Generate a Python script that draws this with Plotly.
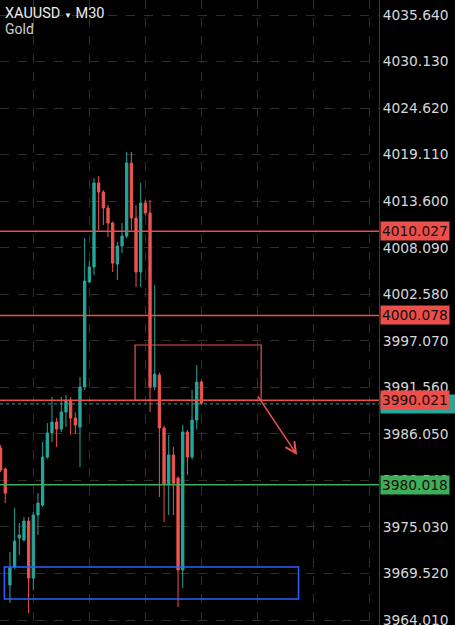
import plotly.graph_objects as go

# M30 bars, oldest -> newest (bar index on x)
BARS = list(range(44))
OPEN = [3984.37, 3981.89, 3968.15, 3970.28, 3973.72, 3973.48, 3975.73, 3968.98, 3976.44, 3977.62,
        3983.31, 3986.15, 3987.45, 3986.62, 3988.64, 3990.06, 3987.93, 3986.86, 3991.60, 4004.03,
        4005.80, 4015.75, 4014.68, 4012.79, 4011.01, 4006.16, 4008.29, 4009.47, 4018.12, 4011.60,
        4005.21, 4013.38, 4012.20, 3991.60, 3993.02, 3986.74, 3980.11, 3983.54, 3980.82, 3969.93,
        3986.27, 3983.31, 3987.69, 3992.19]
HIGH = [3984.73, 3982.05, 3972.06, 3977.27, 3975.49, 3976.20, 3976.20, 3976.80, 3979.04, 3985.08,
        3987.33, 3990.41, 3987.93, 3990.41, 3990.65, 3990.41, 3988.60, 3992.78, 4009.24, 4006.50,
        4016.34, 4016.58, 4014.90, 4013.14, 4011.20, 4008.76, 4011.01, 4019.42, 4019.42, 4013.14,
        4015.75, 4013.74, 4013.74, 4003.67, 3993.30, 3987.00, 3985.91, 3984.49, 3981.00, 3987.10,
        3986.50, 3991.24, 3994.20, 3992.42]
LOW = [3981.53, 3977.86, 3966.02, 3970.05, 3971.70, 3973.30, 3964.84, 3967.56, 3974.07, 3977.39,
       3983.10, 3985.08, 3984.49, 3986.27, 3986.86, 3985.91, 3986.03, 3982.12, 3991.24, 4003.91,
       4004.86, 4010.18, 4010.78, 4009.36, 4005.21, 4004.26, 4007.46, 4009.20, 4010.18, 4003.44,
       4003.44, 4011.90, 3988.64, 3991.24, 3978.57, 3975.61, 3976.44, 3976.44, 3965.55, 3967.80,
       3981.18, 3983.00, 3986.62, 3989.50]
CLOSE = [3981.77, 3979.04, 3970.17, 3973.36, 3974.07, 3975.73, 3968.98, 3976.44, 3977.86, 3983.31,
         3986.15, 3987.45, 3986.62, 3988.64, 3990.06, 3987.93, 3987.10, 3991.60, 4004.15, 4005.80,
         4015.75, 4014.68, 4012.79, 4011.01, 4006.28, 4008.29, 4009.47, 4018.12, 4011.60, 4005.21,
         4013.38, 4012.20, 3991.60, 3993.13, 3986.74, 3980.11, 3983.54, 3980.20, 3969.93, 3986.27,
         3983.31, 3987.69, 3992.19, 3989.70]

PRICE_TICKS = [4035.640, 4030.130, 4024.620, 4019.110, 4013.600, 4008.090, 4002.580,
               3997.070, 3991.560, 3986.050, 3980.540, 3975.030, 3969.520, 3964.010]
TIME_GRID = [7, 19, 31, 43, 55, 67, 79]

RESISTANCE = [4010.027, 4000.078, 3990.021]
SUPPORT = 3980.018
LAST_PRICE = 3989.60
SELL_ZONE = dict(bars=(28.8, 55.8), prices=(3990.021, 3996.57))
BUY_ZONE = dict(bars=(0.8, 63.8), prices=(3966.49, 3970.28))
PROJECTION = dict(bars=(54.9, 63.5), prices=(3990.65, 3983.54))

UP = "#26a69a"
DOWN = "#ef5350"
LEVEL_RED = "#ea4f49"
LEVEL_GREEN = "#3fae5a"
ZONE_BLUE = "#2962ff"
GRID = "#2e2e2e"
TEXT = "#d6d6d6"
FONT = "DejaVu Sans"
FSIZE = 13.8

fig = go.Figure(go.Candlestick(
    x=BARS, open=OPEN, high=HIGH, low=LOW, close=CLOSE,
    increasing=dict(line=dict(color=UP, width=1), fillcolor=UP),
    decreasing=dict(line=dict(color=DOWN, width=1), fillcolor=DOWN),
    whiskerwidth=0,
    showlegend=False,
))

shapes = []
# sell zone & buy zone boxes
shapes.append(dict(type="rect", xref="x", yref="y",
                   x0=SELL_ZONE["bars"][0], x1=SELL_ZONE["bars"][1],
                   y0=SELL_ZONE["prices"][0], y1=SELL_ZONE["prices"][1],
                   line=dict(color=LEVEL_RED, width=1.2), layer="above"))
shapes.append(dict(type="rect", xref="x", yref="y",
                   x0=BUY_ZONE["bars"][0], x1=BUY_ZONE["bars"][1],
                   y0=BUY_ZONE["prices"][0], y1=BUY_ZONE["prices"][1],
                   line=dict(color=ZONE_BLUE, width=1.5), layer="above"))
# last price dashed line
shapes.append(dict(type="line", xref="paper", yref="y", x0=0, x1=1,
                   y0=LAST_PRICE, y1=LAST_PRICE,
                   line=dict(color=UP, width=1, dash="3px,3px"), layer="above"))
for lvl in RESISTANCE:
    shapes.append(dict(type="line", xref="paper", yref="y", x0=0, x1=1, y0=lvl, y1=lvl,
                       line=dict(color=LEVEL_RED, width=1.5), layer="above"))
shapes.append(dict(type="line", xref="paper", yref="y", x0=0, x1=1, y0=SUPPORT, y1=SUPPORT,
                   line=dict(color=LEVEL_GREEN, width=1.5), layer="above"))

annotations = []


def price_tag(value, color, width=66):
    return dict(xref="paper", yref="y", x=1, y=value, xanchor="left", yanchor="middle",
                xshift=1, text=f"{value:.3f}", showarrow=False, bgcolor=color,
                width=width, align="left", borderpad=1,
                font=dict(family=FONT, size=FSIZE, color="#1a0d0d"))


annotations.append(price_tag(LAST_PRICE, UP, width=74))
for lvl in RESISTANCE:
    annotations.append(price_tag(lvl, LEVEL_RED))
annotations.append(price_tag(SUPPORT, LEVEL_GREEN))

# projected move arrow
annotations.append(dict(xref="x", yref="y", axref="x", ayref="y",
                        x=PROJECTION["bars"][1], y=PROJECTION["prices"][1],
                        ax=PROJECTION["bars"][0], ay=PROJECTION["prices"][0],
                        showarrow=True, arrowhead=5, arrowsize=1.4, arrowwidth=1.5,
                        arrowcolor=LEVEL_RED, text=""))

# symbol header
annotations.append(dict(xref="paper", yref="paper", x=0, y=1, xanchor="left", yanchor="top",
                        xshift=3, yshift=-3, showarrow=False, align="left",
                        text="XAUUSD <span style='font-size:8px'>▼</span> M30",
                        font=dict(family="Roboto", size=14.5, color="#ececec")))
annotations.append(dict(xref="paper", yref="paper", x=0, y=1, xanchor="left", yanchor="top",
                        xshift=3, yshift=-19, showarrow=False, align="left",
                        text="Gold", font=dict(family="Roboto", size=14, color="#d0d0d0")))

fig.update_layout(
    width=455, height=625,
    margin=dict(l=0, r=76, t=0, b=0),
    paper_bgcolor="#000000",
    plot_bgcolor="#000000",
    template="none",
    shapes=shapes,
    annotations=annotations,
    xaxis=dict(
        range=[-0.13, 81.03],
        rangeslider=dict(visible=False),
        showticklabels=False,
        tickvals=TIME_GRID,
        showgrid=True, gridcolor=GRID, gridwidth=1, griddash="dash",
        zeroline=False, showline=False, ticks="",
        automargin=False,
    ),
    yaxis=dict(
        range=[3963.42, 4037.42],
        side="right",
        tickvals=PRICE_TICKS,
        ticktext=[f"{v:.3f}" for v in PRICE_TICKS],
        tickfont=dict(family=FONT, size=FSIZE, color=TEXT),
        ticks="", ticklabelstandoff=0, ticklabeloverflow="allow",
        showgrid=True, gridcolor=GRID, gridwidth=1, griddash="dash",
        zeroline=False,
        showline=True, linecolor="#3a3a3a", linewidth=1,
        automargin=False,
    ),
)

fig.write_html("out.html", config={"displayModeBar": False},
               post_script="document.body.style.margin='0';document.body.style.background='#000';")
